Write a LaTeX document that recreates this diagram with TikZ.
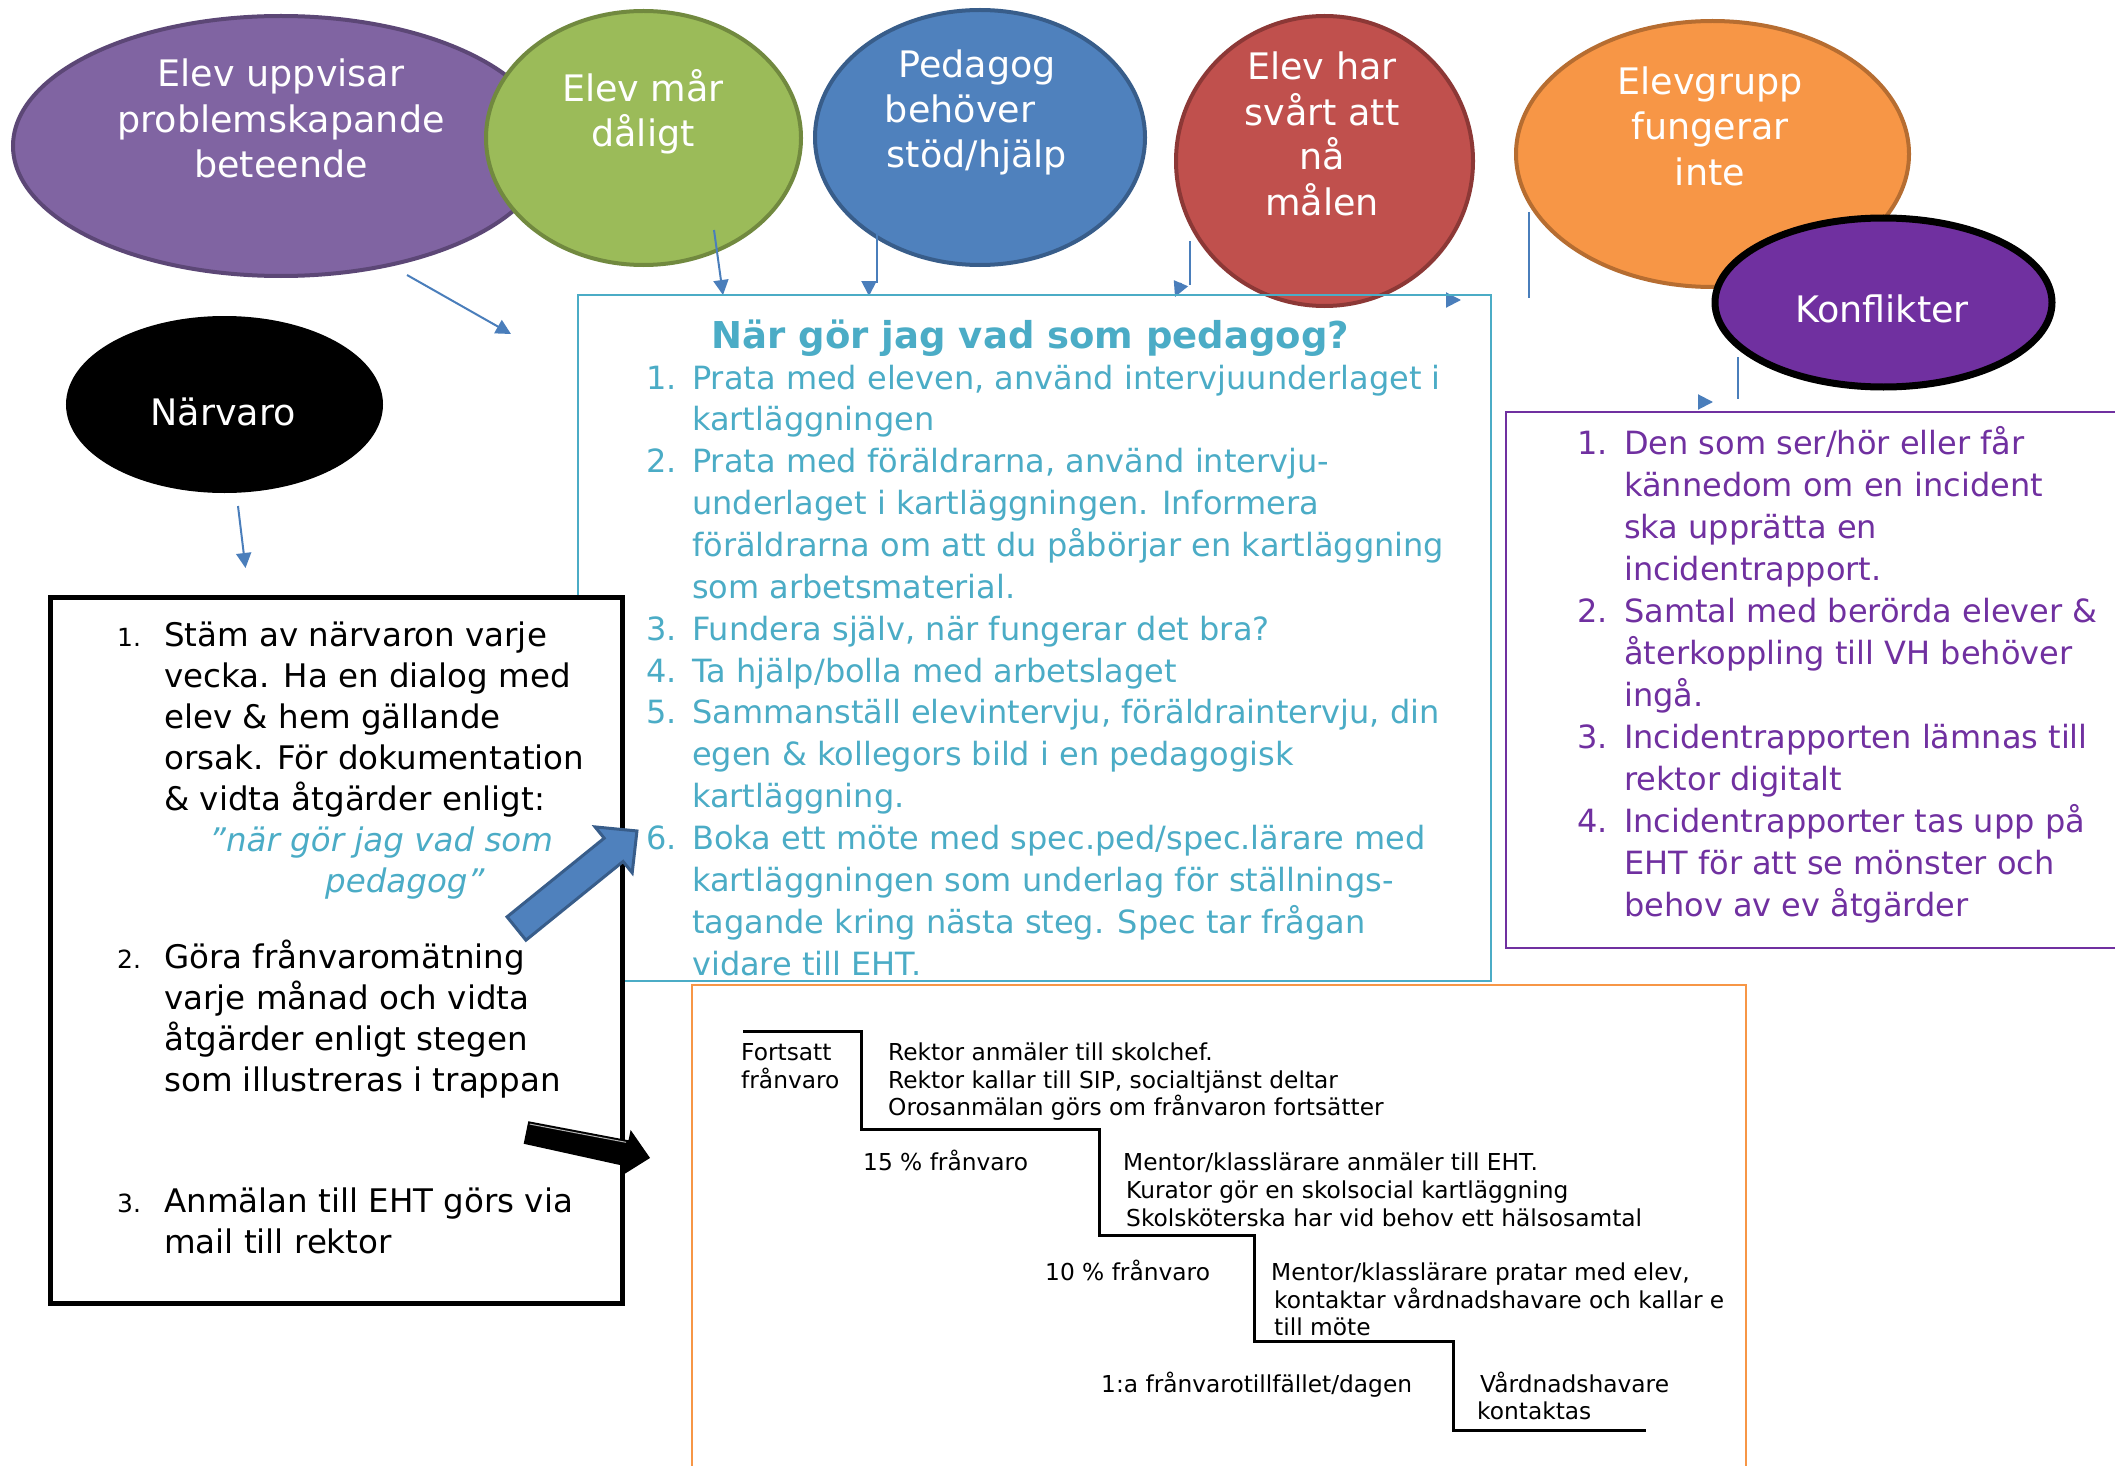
\documentclass[tikz,border=0pt]{standalone}
\usepackage{fontspec}
\setmainfont{DejaVu Sans}
\usetikzlibrary{shapes.geometric,arrows.meta}
\definecolor{cyanc}{HTML}{4BACC6}
\definecolor{purpc}{HTML}{7030A0}
\definecolor{connc}{HTML}{4A7EBB}
\definecolor{orgc}{HTML}{F79646}
\definecolor{purE}{HTML}{8064A2}\definecolor{purEd}{HTML}{5C4776}
\definecolor{grnE}{HTML}{9BBB59}\definecolor{grnEd}{HTML}{71893F}
\definecolor{bluE}{HTML}{4F81BD}\definecolor{bluEd}{HTML}{385D8A}
\definecolor{redE}{HTML}{C0504D}\definecolor{redEd}{HTML}{8C3836}
\definecolor{orE}{HTML}{F79646}\definecolor{orEd}{HTML}{B66D31}
\tikzset{
 ell/.style={ellipse, inner sep=0pt, line width=4pt},
 etxt/.style={anchor=base, inner sep=0pt, text=white, font=\fontsize{36.5}{45}\selectfont},
 lt/.style={anchor=base west, inner sep=0pt},
 btxt/.style={lt, font=\fontsize{32.5}{41}\selectfont},
 bnum/.style={lt, font=\fontsize{25}{41}\selectfont},
 qtxt/.style={lt, text=cyanc, font=\fontsize{32.5}{41}\itshape},
 ctxt/.style={lt, text=cyanc, font=\fontsize{32}{42}\selectfont},
 ptxt/.style={lt, text=purpc, font=\fontsize{32}{42}\selectfont},
 stxt/.style={lt, font=\fontsize{23.3}{28}\selectfont},
 conn/.style={draw=connc, line width=2pt},
 head/.style={conn, -{Triangle[length=15pt,width=15pt]}},
}
\begin{document}
\begin{tikzpicture}[x=1pt,y=-1pt]
\useasboundingbox (0,0) rectangle (2115,1466);
\clip (0,0) rectangle (2115,1466);
\fill[white] (0,0) rectangle (2115,1466);

% ---- top ellipses
\node[ell, fill=purE, draw=purEd, minimum width=536pt, minimum height=260pt] (epur) at (281,146) {};
\node[ell, fill=grnE, draw=grnEd, minimum width=315pt, minimum height=254pt] (egrn) at (643.5,138) {};
\node[ell, fill=bluE, draw=bluEd, minimum width=330pt, minimum height=255pt] (eblu) at (980,137.5) {};
\node[ell, fill=redE, draw=redEd, minimum width=297pt, minimum height=290pt] (ered) at (1324.5,161) {};
\node[ell, fill=orE, draw=orEd, minimum width=393pt, minimum height=266pt] (eorg) at (1712.5,154) {};
\node[ell, fill=purpc, draw=black, line width=7pt, minimum width=337pt, minimum height=169pt] (ekon) at (1883.5,302.5) {};
\node[ell, fill=black, draw=black, minimum width=313pt, minimum height=173pt] (enar) at (224.5,404.5) {};

\node[etxt] (tpu1) at (281,87) {Elev uppvisar};
\node[etxt] (tpu2) at (281,133) {problemskapande};
\node[etxt] (tpu3) at (281,178) {beteende};
\node[etxt] (tgr1) at (643,102) {Elev mår};
\node[etxt] (tgr2) at (643,147) {dåligt};
\node[etxt] (tbl1) at (977,78) {Pedagog};
\node[etxt] (tbl2) at (960,123) {behöver};
\node[etxt] (tbl3) at (977,168) {stöd/hjälp};
\node[etxt] (tre1) at (1322,80) {Elev har};
\node[etxt] (tre2) at (1322,126) {svårt att};
\node[etxt] (tre3) at (1322,170) {nå};
\node[etxt] (tre4) at (1322,216) {målen};
\node[etxt] (tor1) at (1710,95) {Elevgrupp};
\node[etxt] (tor2) at (1710,140) {fungerar};
\node[etxt] (tor3) at (1710,186) {inte};
\node[etxt] (tkon) at (1882,322) {Konflikter};
\node[etxt] (tnar) at (223,425) {Närvaro};

% ---- thin connectors
\coordinate (c1a) at (407,275); \coordinate (c1b) at (511,334);
\draw[head] (c1a) -- (c1b);
\coordinate (c2a) at (714,230); \coordinate (c2b) at (723,295);
\draw[head] (c2a) -- (c2b);
\coordinate (c3a) at (877,233); \coordinate (c3b) at (877,283);
\coordinate (c3c) at (869,281); \coordinate (c3d) at (869,296);
\draw[conn] (c3a) -- (c3b); \draw[head] (c3c) -- (c3d);
\coordinate (c4a) at (1190,241); \coordinate (c4b) at (1190,285);
\coordinate (c4c) at (1181,283); \coordinate (c4d) at (1175,297);
\draw[conn] (c4a) -- (c4b); \draw[head] (c4c) -- (c4d);
\coordinate (c5a) at (1529,212); \coordinate (c5b) at (1529,298);
\coordinate (c5c) at (1446,300); \coordinate (c5d) at (1461,300);
\draw[conn] (c5a) -- (c5b); \draw[head] (c5c) -- (c5d);
\coordinate (c6a) at (1738,357); \coordinate (c6b) at (1738,399);
\coordinate (c6c) at (1698,402); \coordinate (c6d) at (1713,402);
\draw[conn] (c6a) -- (c6b); \draw[head] (c6c) -- (c6d);
\coordinate (c7a) at (238,506); \coordinate (c7b) at (245.5,568);
\draw[head] (c7a) -- (c7b);

% ---- cyan box
\node[draw=cyanc, line width=2pt, minimum width=913pt, minimum height=686pt, inner sep=0pt] (cbox) at (1034.5,638) {};
\node[anchor=base, inner sep=0pt, text=cyanc, font=\fontsize{37}{42}\bfseries] (ctitle) at (1030.5,348) {När gör jag vad som pedagog?};
\node[ctxt] (cn1) at (646,389) {1.};
\node[ctxt] (cn2) at (646,472) {2.};
\node[ctxt] (cn3) at (646,640) {3.};
\node[ctxt] (cn4) at (646,682) {4.};
\node[ctxt] (cn5) at (646,723) {5.};
\node[ctxt] (cn6) at (646,849) {6.};
\node[ctxt] (cl0) at (692,389) {Prata med eleven, använd intervjuunderlaget i};
\node[ctxt] (cl1) at (692,430) {kartläggningen};
\node[ctxt] (cl2) at (692,472) {Prata med föräldrarna, använd intervju-};
\node[ctxt] (cl3) at (692,514) {underlaget i kartläggningen. Informera};
\node[ctxt] (cl4) at (692,556) {föräldrarna om att du påbörjar en kartläggning};
\node[ctxt] (cl5) at (692,598) {som arbetsmaterial.};
\node[ctxt] (cl6) at (692,640) {Fundera själv, när fungerar det bra?};
\node[ctxt] (cl7) at (692,682) {Ta hjälp/bolla med arbetslaget};
\node[ctxt] (cl8) at (692,723) {Sammanställ elevintervju, föräldraintervju, din};
\node[ctxt] (cl9) at (692,765) {egen \& kollegors bild i en pedagogisk};
\node[ctxt] (cl10) at (692,807) {kartläggning.};
\node[ctxt] (cl11) at (692,849) {Boka ett möte med spec.ped/spec.lärare med};
\node[ctxt] (cl12) at (692,891) {kartläggningen som underlag för ställnings-};
\node[ctxt] (cl13) at (692,933) {tagande kring nästa steg. Spec tar frågan};
\node[ctxt] (cl14) at (692,975) {vidare till EHT.};

% ---- black box
\node[draw=black, fill=white, line width=5pt, minimum width=572pt, minimum height=706pt, inner sep=0pt] (bbox) at (336,950) {};
\node[bnum] (bn1) at (117,646) {1.};
\node[bnum] (bn2) at (117,968) {2.};
\node[bnum] (bn3) at (117,1212) {3.};
\node[btxt] (bl1) at (164,646) {Stäm av närvaron varje};
\node[btxt] (bl2) at (164,687) {vecka. Ha en dialog med};
\node[btxt] (bl3) at (164,728) {elev \& hem gällande};
\node[btxt] (bl4) at (164,769) {orsak. För dokumentation};
\node[btxt] (bl5) at (164,810) {\& vidta åtgärder enligt:};
\node[qtxt] (bq1) at (209,851) {”när gör jag vad som};
\node[qtxt] (bq2) at (325,892) {pedagog”};
\node[btxt] (bl6) at (164,968) {Göra frånvaromätning};
\node[btxt] (bl7) at (164,1009) {varje månad och vidta};
\node[btxt] (bl8) at (164,1050) {åtgärder enligt stegen};
\node[btxt] (bl9) at (164,1091) {som illustreras i trappan};
\node[btxt] (bl10) at (164,1212) {Anmälan till EHT görs via};
\node[btxt] (bl11) at (164,1253) {mail till rektor};

% ---- purple box
\draw[draw=purpc, line width=2pt] (2130,412) -- (1506,412) -- (1506,948) -- (2130,948);
\coordinate (pbox) at (1506,412);
\node[ptxt] (pn1) at (1577,454) {1.};
\node[ptxt] (pn2) at (1577,622) {2.};
\node[ptxt] (pn3) at (1577,748) {3.};
\node[ptxt] (pn4) at (1577,832) {4.};
\node[ptxt] (pl0) at (1624,454) {Den som ser/hör eller får};
\node[ptxt] (pl1) at (1624,496) {kännedom om en incident};
\node[ptxt] (pl2) at (1624,538) {ska upprätta en};
\node[ptxt] (pl3) at (1624,580) {incidentrapport.};
\node[ptxt] (pl4) at (1624,622) {Samtal med berörda elever \&};
\node[ptxt] (pl5) at (1624,664) {återkoppling till VH behöver};
\node[ptxt] (pl6) at (1624,706) {ingå.};
\node[ptxt] (pl7) at (1624,748) {Incidentrapporten lämnas till};
\node[ptxt] (pl8) at (1624,790) {rektor digitalt};
\node[ptxt] (pl9) at (1624,832) {Incidentrapporter tas upp på};
\node[ptxt] (pl10) at (1624,874) {EHT för att se mönster och};
\node[ptxt] (pl11) at (1624,916) {behov av ev åtgärder};

% ---- orange box with staircase
\draw[draw=orgc, line width=2pt] (692,1480) -- (692,985) -- (1746,985) -- (1746,1480);
\draw[line width=3pt] (743,1031) -- (861,1031) -- (861,1129) -- (1099,1129) -- (1099,1235)
  -- (1254,1235) -- (1254,1341) -- (1453,1341) -- (1453,1430) -- (1646,1430);
\node[stxt] (s1) at (741,1060) {Fortsatt};
\node[stxt] (s2) at (741,1088) {frånvaro};
\node[stxt] (s3) at (888,1060) {Rektor anmäler till skolchef.};
\node[stxt] (s4) at (888,1088) {Rektor kallar till SIP, socialtjänst deltar};
\node[stxt] (s5) at (888,1115) {Orosanmälan görs om frånvaron fortsätter};
\node[stxt] (s6) at (863,1170) {15 \% frånvaro};
\node[stxt] (s7) at (1123,1170) {Mentor/klasslärare anmäler till EHT.};
\node[stxt] (s8) at (1126,1198) {Kurator gör en skolsocial kartläggning};
\node[stxt] (s9) at (1126,1226) {Skolsköterska har vid behov ett hälsosamtal};
\node[stxt] (s10) at (1045,1280) {10 \% frånvaro};
\node[stxt] (s11) at (1271,1280) {Mentor/klasslärare pratar med elev,};
\node[stxt] (s12) at (1274,1308) {kontaktar vårdnadshavare och kallar e};
\node[stxt] (s13) at (1274,1335) {till möte};
\node[stxt] (s14) at (1101,1392) {1:a frånvarotillfället/dagen};
\node[stxt] (s15) at (1480,1392) {Vårdnadshavare};
\node[stxt] (s16) at (1477,1419) {kontaktas};

% ---- block arrows
\begin{scope}[shift={(516.5,928.5)}, rotate=39]
\draw[fill=bluE, draw=bluEd, line width=3pt, line join=miter]
  (0,-15) -- (125,-15) -- (125,-29.5) -- (155,0) -- (125,29.5) -- (125,15) -- (0,15) -- cycle;
\end{scope}
\begin{scope}[shift={(526,1132.5)}, rotate=-11.6]
\fill[black] (0,-11.5) -- (102,-13) -- (102,-23.5) -- (126.6,0) -- (102,23.5) -- (102,13) -- (0,11.5) -- cycle;
\draw[gray!60, line width=1pt] (2,-9) -- (100,-10.5);
\end{scope}
\end{tikzpicture}
\end{document}
